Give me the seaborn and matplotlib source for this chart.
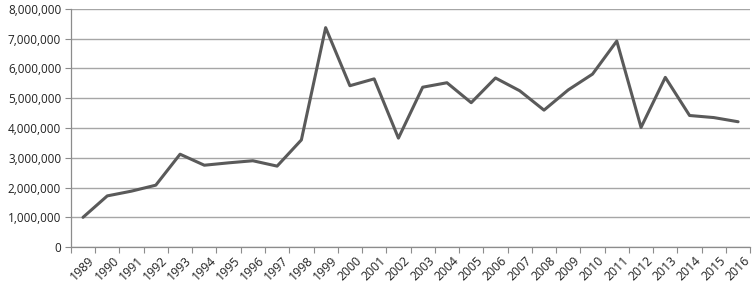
import matplotlib
matplotlib.use("Agg")
import matplotlib.pyplot as plt
import matplotlib.ticker as mticker
import matplotlib.transforms as mtransforms
import seaborn as sns
import pandas as pd

years = list(range(1989, 2017))
values = [1000000, 1720000, 1880000, 2080000, 3120000, 2750000, 2830000, 2900000,
          2720000, 3600000, 7370000, 5420000, 5650000, 3660000, 5370000, 5520000,
          4850000, 5680000, 5250000, 4600000, 5280000, 5810000, 6920000, 4020000,
          5700000, 4420000, 4350000, 4210000]

df = pd.DataFrame({"year": years, "value": values})

sns.set_theme(style="white")
plt.rcParams['font.family'] = ['Open Sans', 'DejaVu Sans']

fig = plt.figure(figsize=(7.54, 2.87), dpi=100)
ax = fig.add_axes([0.094, 0.139, 0.901, 0.830])

sns.lineplot(data=df, x="year", y="value", ax=ax, color="#5a5a5a", linewidth=2.2, zorder=3)

ax.set_xlim(years[0] - 0.5, years[-1] + 0.5)
ax.set_ylim(0, 8000000)
ax.yaxis.set_major_locator(mticker.MultipleLocator(1000000))
ax.yaxis.set_major_formatter(mticker.FuncFormatter(lambda v, p: f"{int(v):,}"))
ax.grid(axis="y", color="#a6a6a6", linewidth=1.0, zorder=0)
ax.grid(axis="x", visible=False)

ax.set_xticks(years)
ax.set_xticklabels([str(y) for y in years], rotation=45, ha="right", rotation_mode="anchor")
ax.set_xticks([y - 0.5 for y in years] + [years[-1] + 0.5], minor=True)
ax.tick_params(axis="x", which="major", length=0, pad=5, labelsize=8.8, colors="#222222")
ax.tick_params(axis="x", which="minor", length=4, width=0.8, color="#8c8c8c", direction="out", bottom=True)
ax.tick_params(axis="y", which="major", length=4, width=0.8, color="#8c8c8c", direction="out",
               left=True, labelsize=8.5, colors="#222222", pad=3)

offset = mtransforms.ScaledTranslation(5 / 100, 0, fig.dpi_scale_trans)
for lab in ax.get_xticklabels():
    lab.set_transform(lab.get_transform() + offset)

for s in ["top", "right"]:
    ax.spines[s].set_visible(False)
for s in ["left", "bottom"]:
    ax.spines[s].set_color("#8c8c8c")
    ax.spines[s].set_linewidth(0.9)

ax.set_xlabel("")
ax.set_ylabel("")

fig.savefig("out.png", dpi=100)
